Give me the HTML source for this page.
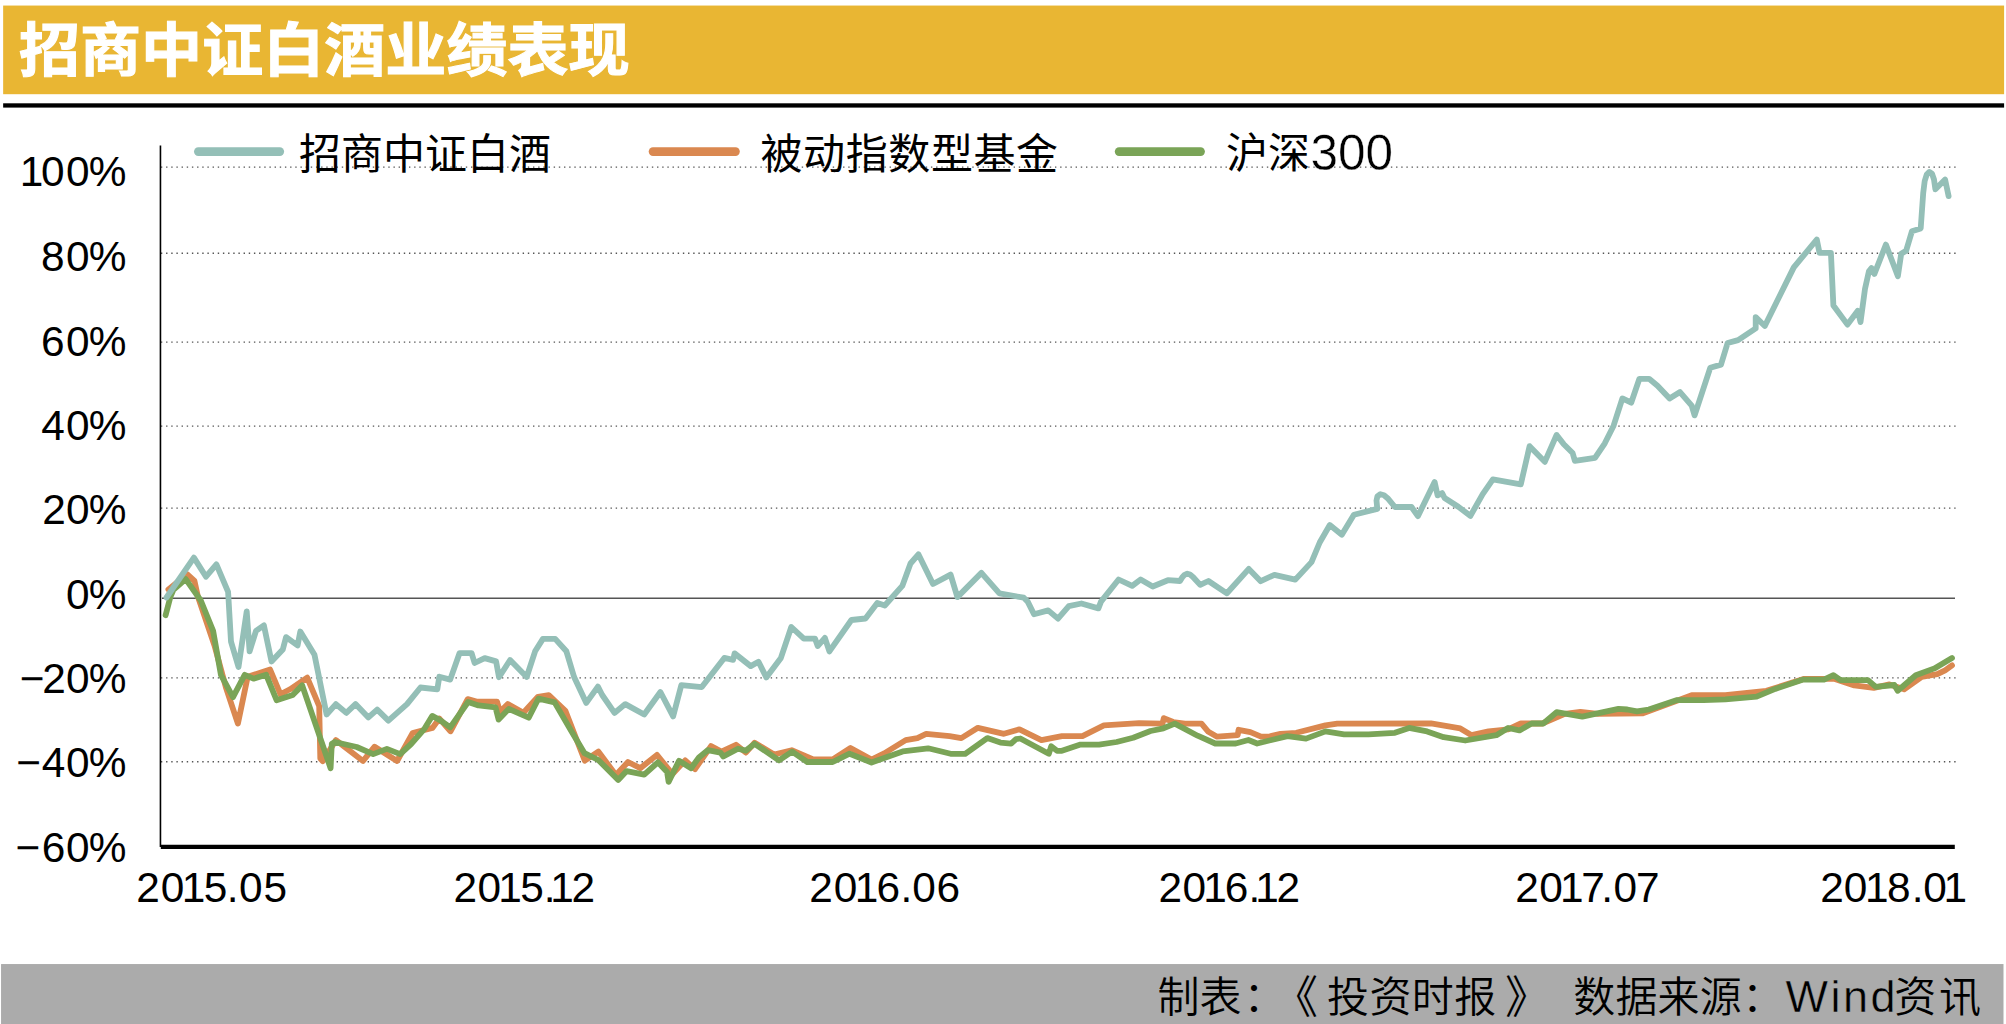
<!DOCTYPE html>
<html lang="zh-CN">
<head>
<meta charset="utf-8">
<title>招商中证白酒业绩表现</title>
<style>
html,body{margin:0;padding:0;background:#fff;}
body{width:2006px;height:1024px;position:relative;overflow:hidden;font-family:"Liberation Sans","Noto Sans CJK SC",sans-serif;color:#000;}
.abs{position:absolute;white-space:nowrap;line-height:1;}
#title{left:18.8px;top:22.1px;font-size:61px;font-weight:700;-webkit-text-stroke:1.1px #fff;color:#fff;font-family:"Liberation Sans","Noto Sans CJK SC",sans-serif;transform:scale(1.001,0.953);transform-origin:0 0;}
.nl{font-size:42.4px;}
.lg{font-size:42px;font-weight:400;font-family:"Liberation Sans","Noto Sans CJK SC",sans-serif;}
.lat{font-family:"Liberation Sans",sans-serif;}
#foot span{position:absolute;top:0;}
#foot{font-size:42px;font-weight:350;font-family:"Liberation Sans","Noto Sans CJK SC",sans-serif;left:0;top:977.3px;width:2006px;height:46px;}
svg{position:absolute;left:0;top:0;}
</style>
</head>
<body>

<svg width="2006" height="1024" viewBox="0 0 2006 1024">
<rect x="3.15" y="5.55" width="2000.95" height="88.65" fill="#e9b633" />
<rect x="3.15" y="103.3" width="2000.95" height="4.3" fill="#000" />
<rect x="1.05" y="964.05" width="2002.45" height="60" fill="#ababab" />
<line x1="160.9" y1="167.1" x2="1956" y2="167.1" stroke="#555" stroke-width="1.4" stroke-dasharray="1.4 3.768" />
<line x1="160.9" y1="253.3" x2="1956" y2="253.3" stroke="#555" stroke-width="1.4" stroke-dasharray="1.4 3.768" />
<line x1="160.9" y1="342.1" x2="1956" y2="342.1" stroke="#555" stroke-width="1.4" stroke-dasharray="1.4 3.768" />
<line x1="160.9" y1="426.1" x2="1956" y2="426.1" stroke="#555" stroke-width="1.4" stroke-dasharray="1.4 3.768" />
<line x1="160.9" y1="508.1" x2="1956" y2="508.1" stroke="#555" stroke-width="1.4" stroke-dasharray="1.4 3.768" />
<line x1="160.9" y1="677.9" x2="1956" y2="677.9" stroke="#555" stroke-width="1.4" stroke-dasharray="1.4 3.768" />
<line x1="160.9" y1="761.7" x2="1956" y2="761.7" stroke="#555" stroke-width="1.4" stroke-dasharray="1.4 3.768" />
<line x1="162" y1="598.2" x2="1955" y2="598.2" stroke="#555" stroke-width="1.5" />
<line x1="160.45" y1="145.4" x2="160.45" y2="847" stroke="#000" stroke-width="1.6" />
<line x1="160.8" y1="846.9" x2="1954.8" y2="846.9" stroke="#000" stroke-width="4.3" />
<line x1="198.3" y1="151.6" x2="279.8" y2="151.6" stroke="#94bfb7" stroke-width="8.6" stroke-linecap="round" />
<line x1="653" y1="151.6" x2="735.5" y2="151.6" stroke="#da8850" stroke-width="8.6" stroke-linecap="round" />
<line x1="1119.1" y1="151.6" x2="1200.6" y2="151.6" stroke="#7aa457" stroke-width="8.6" stroke-linecap="round" />
<polyline points="168.4,589.4 187.1,574.2 194.5,581.0 197.9,596.6 214.5,645.5 226.2,688.4 237.9,723.6 247.7,676.7 270.1,669.5 280.5,694.3 290.0,689.3 307.2,677.6 319.2,706.2 320.3,758.5 322.8,761.2 335.9,740.1 363.0,761.0 374.6,746.7 397.1,761.0 412.7,733.0 432.4,727.9 439.4,718.6 450.5,731.3 467.7,699.1 476.5,701.6 497.0,701.6 500.0,711.8 507.8,704.0 523.4,712.8 538.0,696.8 548.8,695.2 565.4,710.8 584.8,760.7 598.3,751.6 615.9,775.0 628.0,762.0 640.3,768.2 656.9,754.9 672.5,774.1 685.2,760.4 695.0,769.2 711.0,746.1 721.4,751.6 736.0,744.8 745.8,752.6 754.6,742.8 774.1,754.5 791.7,750.2 813.2,759.4 832.7,759.4 850.5,748.0 871.5,759.6 884.2,753.4 905.7,740.1 917.4,738.1 926.2,733.8 949.6,736.2 961.3,738.1 977.9,727.8 1003.9,733.8 1019.5,729.3 1041.4,740.1 1061.9,736.2 1082.4,736.2 1103.9,725.4 1139.1,723.2 1162.5,723.6 1163.8,718.1 1173.2,722.0 1184.9,723.6 1201.5,723.6 1208.4,731.8 1217.1,736.7 1237.7,735.1 1238.6,729.8 1250.4,732.2 1261.1,736.7 1269.9,736.3 1280.6,733.8 1296.3,732.8 1325.5,725.4 1337.3,723.6 1431.0,723.4 1460.3,728.4 1471.6,735.2 1488.6,731.3 1508.1,729.4 1520.8,723.5 1542.3,723.5 1564.8,713.8 1580.4,711.8 1598.0,713.8 1642.9,713.4 1691.7,695.2 1725.4,695.2 1766.4,690.8 1803.5,678.9 1834.8,678.9 1854.3,685.4 1873.8,687.9 1889.5,684.4 1904.1,689.3 1921.7,676.8 1937.3,674.2 1945.1,670.3 1952.0,665.4" fill="none" stroke="#da8850" stroke-width="5.8" stroke-linejoin="round" stroke-linecap="round" />
<polyline points="165.6,615.2 170.5,596.6 173.4,589.8 185.7,579.1 200.8,600.5 213.1,630.8 220.9,674.8 233.0,697.2 244.7,674.8 253.5,678.7 266.2,674.8 276.6,700.2 292.7,695.0 302.2,685.4 330.6,768.2 331.8,743.7 334.8,742.0 356.7,747.0 373.2,754.1 386.9,748.9 400.2,754.1 411.1,744.0 424.0,729.4 432.2,715.9 440.4,720.4 450.2,727.4 468.1,702.0 478.5,705.4 495.5,707.3 498.6,719.6 508.8,708.9 528.7,717.7 538.4,698.7 554.6,702.4 571.3,731.0 584.5,753.2 598.3,760.0 618.2,779.9 626.6,771.1 644.2,774.6 657.9,762.3 667.1,772.1 668.6,781.9 679.0,760.8 691.1,768.2 698.9,757.5 707.7,750.2 720.4,752.6 723.3,756.5 738.0,748.7 745.8,750.6 754.6,743.8 779.0,760.4 792.1,751.6 807.3,762.0 832.7,762.0 849.6,753.7 871.5,762.5 902.7,751.4 928.1,748.3 950.6,753.8 965.2,753.8 987.3,738.1 1000.4,742.6 1011.1,743.6 1016.0,739.1 1020.3,738.5 1048.8,753.8 1051.2,746.3 1057.0,750.8 1061.9,750.8 1080.5,744.6 1099.0,744.6 1116.6,742.0 1133.2,737.7 1150.5,731.0 1163.4,728.3 1174.8,723.6 1197.6,735.7 1215.2,743.5 1235.7,743.5 1248.4,740.0 1257.2,743.5 1287.5,736.1 1306.0,738.6 1325.5,731.4 1344.1,734.3 1368.5,734.3 1394.9,732.8 1409.1,727.9 1427.1,731.4 1443.7,737.2 1465.2,740.5 1496.4,735.2 1508.1,728.0 1519.5,730.4 1531.6,723.5 1543.3,723.5 1556.6,712.2 1582.3,716.7 1618.5,708.9 1627.3,709.5 1637.0,711.4 1648.8,709.5 1677.1,700.1 1703.4,700.1 1725.4,699.4 1756.6,696.7 1775.2,688.9 1802.5,679.7 1824.0,679.7 1833.4,675.2 1840.6,680.1 1868.0,680.1 1875.8,686.9 1894.3,685.0 1897.7,690.8 1915.8,675.2 1934.4,668.4 1952.0,658.0" fill="none" stroke="#7aa457" stroke-width="5.8" stroke-linejoin="round" stroke-linecap="round" />
<polyline points="166.5,597.5 193.9,557.6 206.0,576.7 216.4,564.4 228.1,591.8 231.0,641.6 238.5,667.0 246.7,611.3 249.6,651.3 256.0,630.8 263.9,625.4 271.5,661.5 282.8,649.4 286.1,637.1 297.6,645.5 300.3,631.5 314.5,654.8 326.6,714.5 335.9,704.1 346.3,712.9 355.5,704.1 368.4,717.4 377.2,709.6 388.4,720.6 407.0,704.1 420.5,687.5 437.3,689.4 439.3,676.7 450.2,679.6 459.5,653.2 471.6,653.2 474.6,663.0 484.7,658.1 496.1,661.4 499.0,677.2 510.1,660.0 526.7,677.0 535.1,651.3 542.9,638.9 555.2,638.9 566.4,651.3 574.1,677.0 586.3,702.9 597.9,686.6 602.2,695.0 614.5,712.9 625.3,704.1 644.2,714.5 660.4,692.0 673.1,716.4 681.3,685.2 701.8,687.1 724.3,657.9 733.1,659.8 734.6,653.4 750.7,666.1 758.5,661.8 766.3,677.4 780.9,657.9 791.3,627.0 803.8,638.7 815.1,638.7 817.7,646.1 824.9,637.9 829.4,651.4 851.4,620.0 865.5,618.5 877.3,602.9 884.8,605.5 902.3,585.9 910.5,563.5 918.4,554.3 933.0,584.0 950.6,574.6 957.4,597.1 981.4,572.9 999.4,593.4 1023.8,597.7 1027.7,601.6 1034.0,614.3 1048.2,610.4 1058.0,618.6 1068.8,606.1 1081.4,603.5 1098.4,608.4 1101.0,601.6 1118.6,579.5 1132.2,585.9 1140.6,579.5 1152.7,586.5 1167.9,580.2 1180.0,581.0 1182.3,577.2 1184.6,574.8 1187.2,573.7 1190.0,574.6 1193.0,577.0 1200.2,584.9 1208.4,581.0 1226.9,593.3 1248.8,568.9 1260.7,581.2 1274.4,574.8 1295.3,579.6 1311.5,562.1 1319.7,542.5 1329.8,525.0 1341.8,534.7 1353.9,514.8 1377.3,508.9 1376.5,500.5 1377.4,496.4 1380.4,494.2 1384.0,495.2 1387.6,498.2 1394.9,507.0 1411.5,507.0 1417.9,516.2 1434.6,482.0 1437.6,495.3 1442.1,493.1 1444.6,498.0 1458.3,506.8 1470.4,515.9 1482.7,494.1 1492.9,479.4 1520.8,484.3 1529.6,446.2 1544.8,461.8 1556.6,434.9 1563.8,444.3 1572.6,453.0 1574.9,460.9 1595.0,457.9 1604.8,443.3 1613.6,425.7 1622.4,398.4 1631.2,402.7 1639.4,378.8 1649.1,378.8 1657.5,385.7 1669.6,398.4 1680.0,392.1 1691.7,405.6 1694.6,415.4 1710.3,367.7 1721.0,364.6 1727.6,343.0 1738.1,340.1 1755.7,328.4 1755.7,317.2 1764.8,326.0 1793.8,267.4 1816.8,239.5 1819.5,252.8 1830.9,252.8 1833.4,305.5 1847.5,324.6 1857.8,310.8 1860.5,322.1 1865.0,288.9 1868.9,271.3 1871.5,268.0 1874.4,273.9 1885.9,244.6 1897.9,276.2 1901.2,253.8 1906.1,250.8 1911.9,231.3 1920.7,228.4 1923.2,193.2 1924.7,181.0 1926.7,174.6 1929.4,171.9 1932.0,173.6 1934.0,179.5 1935.4,189.3 1945.1,179.5 1948.6,196.1" fill="none" stroke="#94bfb7" stroke-width="5.8" stroke-linejoin="round" stroke-linecap="round" />
</svg>
<div class="abs" id="title">招商中证白酒业绩表现</div>
<div class="abs nl" style="left:19.66px;top:151px">1<span style="margin-left:-2.23px">0</span><span style="margin-left:1.42px">0</span><span style="margin-left:-0.74px">%</span></div>
<div class="abs nl" style="left:41.11px;top:236px">8<span style="margin-left:1.32px">0</span><span style="margin-left:-0.74px">%</span></div>
<div class="abs nl" style="left:41.11px;top:321px">6<span style="margin-left:1.31px">0</span><span style="margin-left:-0.74px">%</span></div>
<div class="abs nl" style="left:41.24px;top:405px">4<span style="margin-left:1.18px">0</span><span style="margin-left:-0.74px">%</span></div>
<div class="abs nl" style="left:42.26px;top:489px">2<span style="margin-left:0.17px">0</span><span style="margin-left:-0.74px">%</span></div>
<div class="abs nl" style="left:66.01px;top:574px">0<span style="margin-left:-0.74px">%</span></div>
<div class="abs nl" style="left:19.66px;top:658px">−<span style="margin-left:-2.16px">2</span><span style="margin-left:0.17px">0</span><span style="margin-left:-0.74px">%</span></div>
<div class="abs nl" style="left:16.26px;top:742px">−<span style="margin-left:0.72px">4</span><span style="margin-left:0.68px">0</span><span style="margin-left:-0.74px">%</span></div>
<div class="abs nl" style="left:15.56px;top:827px">−<span style="margin-left:1.34px">6</span><span style="margin-left:0.76px">0</span><span style="margin-left:-0.74px">%</span></div>
<div class="abs nl" style="left:136.21px;top:866.9px">2<span style="margin-left:1.02px">0</span><span style="margin-left:-2.72px">1</span><span style="margin-left:-1.60px">5</span><span style="margin-left:-0.57px">.</span><span style="margin-left:0.52px">0</span><span style="margin-left:1.06px">5</span></div>
<div class="abs nl" style="left:453.41px;top:866.9px">2<span style="margin-left:0.62px">0</span><span style="margin-left:-2.84px">1</span><span style="margin-left:-1.73px">5</span><span style="margin-left:-0.17px">.</span><span style="margin-left:-5.20px">1</span><span style="margin-left:-2.30px">2</span></div>
<div class="abs nl" style="left:809.16px;top:866.9px">2<span style="margin-left:1.02px">0</span><span style="margin-left:-2.58px">1</span><span style="margin-left:-1.92px">6</span><span style="margin-left:0.46px">.</span><span style="margin-left:-0.08px">0</span><span style="margin-left:0.82px">6</span></div>
<div class="abs nl" style="left:1158.41px;top:866.9px">2<span style="margin-left:0.62px">0</span><span style="margin-left:-2.83px">1</span><span style="margin-left:-2.17px">6</span><span style="margin-left:0.26px">.</span><span style="margin-left:-5.20px">1</span><span style="margin-left:-2.30px">2</span></div>
<div class="abs nl" style="left:1515.36px;top:866.9px">2<span style="margin-left:0.42px">0</span><span style="margin-left:-2.99px">1</span><span style="margin-left:-2.34px">7</span><span style="margin-left:-3.46px">.</span><span style="margin-left:0.32px">0</span><span style="margin-left:-0.90px">7</span></div>
<div class="abs nl" style="left:1820.26px;top:866.9px">2<span style="margin-left:-0.08px">0</span><span style="margin-left:-2.44px">1</span><span style="margin-left:-1.47px">8</span><span style="margin-left:1.17px">.</span><span style="margin-left:-0.28px">0</span><span style="margin-left:-3.39px">1</span></div>
<div class="abs lg" style="left:299.00px;top:125.00px;line-height:60px">招商中证白酒</div>
<div class="abs lg" style="left:760.50px;top:125.00px;line-height:60px"><span style="letter-spacing:0.6px">被动指数型基金</span></div>
<div class="abs lg" style="left:1226.00px;top:121.00px;line-height:60px">沪深<span class="lat" style="font-size:49.5px;font-weight:400;-webkit-text-stroke:0.45px #fff;position:relative;top:1.5px;left:0.5px">300</span></div>
<div class="abs" id="foot">
<span style="left:1157.50px;top:0.00px">制表<span style="margin-left:2px;position:static">：</span></span>
<span style="left:1273.00px;top:0.00px"><span style="font-size:45px;position:relative;top:-1px">《</span></span>
<span style="left:1327.00px;top:0.00px"><span style="letter-spacing:0.4px;position:static">投资时报</span></span>
<span style="left:1505.00px;top:0.00px"><span style="font-size:45px;position:relative;top:-1px">》</span></span>
<span style="left:1573.20px;top:0.00px"><span style="letter-spacing:0.2px;position:static">数据来源：</span></span>
<span class="lat" style="left:1785.50px;top:-3.70px;font-size:45px;letter-spacing:2.5px;font-weight:400;-webkit-text-stroke:0.5px #ababab">Wind</span>
<span style="left:1894.30px;top:0.00px"><span style="letter-spacing:2.8px;position:static">资讯</span></span>
</div>
</body></html>
